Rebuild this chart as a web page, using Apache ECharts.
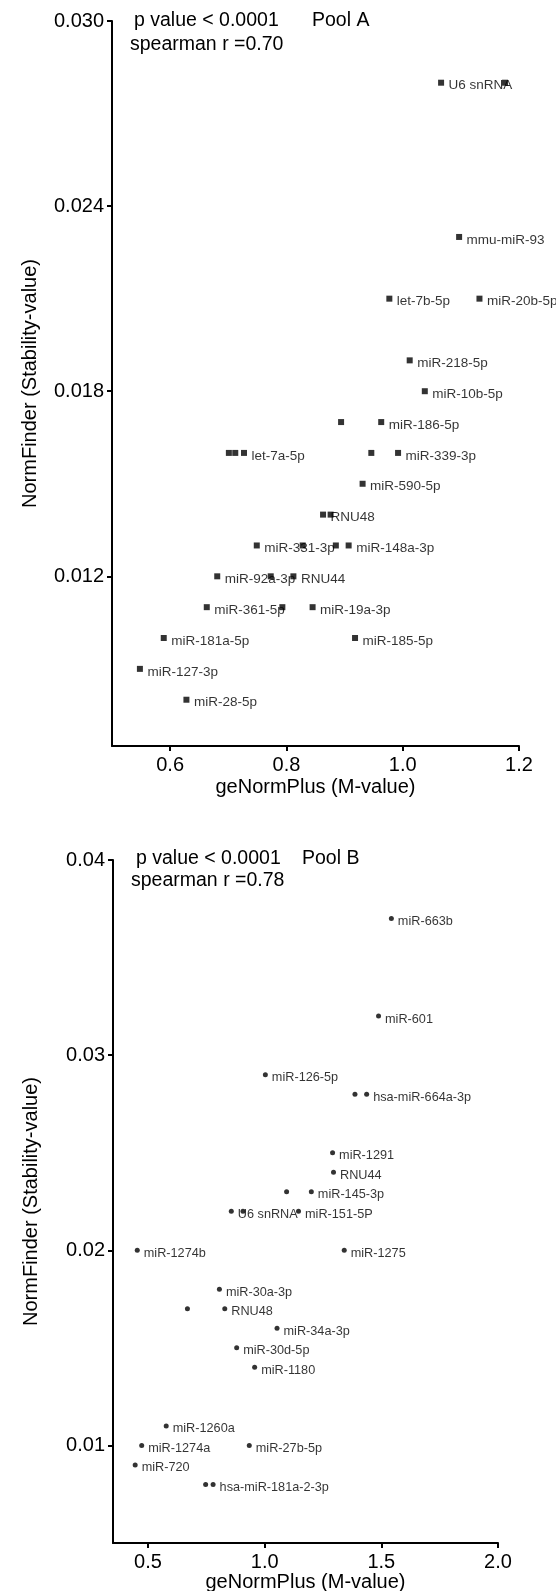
<!DOCTYPE html>
<html>
<head>
<meta charset="utf-8">
<script src="https://cdn.jsdelivr.net/npm/echarts@6/dist/echarts.min.js"></script>
<style>
html,body{margin:0;padding:0;background:#fff;}
#c{width:556px;height:1591px;}
</style>
</head>
<body>
<div id="c"></div>
<script>
// ---------- Pool A ----------
const poolA_names = ["U6 snRNA","","mmu-miR-93","let-7b-5p","miR-20b-5p","miR-218-5p","miR-10b-5p","","miR-186-5p","","","let-7a-5p","","miR-339-3p","miR-590-5p","RNU48","","miR-331-3p","","","miR-148a-3p","miR-92a-3p","","RNU44","miR-361-5p","","miR-19a-3p","miR-181a-5p","miR-185-5p","miR-127-3p","miR-28-5p"];
const poolA_x = [1.066,1.176,1.097,0.977,1.132,1.012,1.038,0.894,0.963,0.701,0.712,0.727,0.946,0.992,0.931,0.863,0.876,0.749,0.828,0.885,0.907,0.681,0.773,0.812,0.663,0.793,0.845,0.589,0.918,0.548,0.628];
const poolA_y = [0.028,0.028,0.023,0.021,0.021,0.019,0.018,0.017,0.017,0.016,0.016,0.016,0.016,0.016,0.015,0.014,0.014,0.013,0.013,0.013,0.013,0.012,0.012,0.012,0.011,0.011,0.011,0.010,0.010,0.009,0.008];
const poolA_xTicks = [0.6,0.8,1.0,1.2];
const poolA_yTicks = [0.012,0.018,0.024,0.030];

// ---------- Pool B ----------
const poolB_names = ["miR-663b","miR-601","miR-126-5p","","hsa-miR-664a-3p","miR-1291","RNU44","","miR-145-3p","U6 snRNA","","miR-151-5P","miR-1274b","miR-1275","miR-30a-3p","","RNU48","miR-34a-3p","miR-30d-5p","miR-1180","miR-1260a","miR-1274a","miR-27b-5p","miR-720","","hsa-miR-181a-2-3p"];
const poolB_x = [1.543,1.488,1.003,1.387,1.437,1.291,1.295,1.094,1.200,0.857,0.907,1.145,0.454,1.341,0.806,0.669,0.829,1.053,0.880,0.957,0.578,0.473,0.934,0.445,0.747,0.779];
const poolB_y = [0.037,0.032,0.029,0.028,0.028,0.025,0.024,0.023,0.023,0.022,0.022,0.022,0.020,0.020,0.018,0.017,0.017,0.016,0.015,0.014,0.011,0.010,0.010,0.009,0.008,0.008];
const poolB_xTicks = [0.5,1.0,1.5,2.0];
const poolB_yTicks = [0.01,0.02,0.03,0.04];

const FONT = "'Liberation Sans', Arial, Helvetica, sans-serif";
const pts = (xs, ys, names) => xs.map((x, i) => ({ value: [x, ys[i]], name: names[i] }));

function xAxis(gi, min, max, ticks, gap) {
  return {
    type: 'value', gridIndex: gi, min: min, max: max,
    name: 'geNormPlus (M-value)', nameLocation: 'middle', nameGap: gap,
    nameTextStyle: { fontFamily: FONT, fontSize: 20, color: '#000' },
    axisLine: { show: true, onZero: false, lineStyle: { color: '#000', width: 2 } },
    axisTick: { show: true, length: 5, customValues: ticks, lineStyle: { color: '#000', width: 2 } },
    axisLabel: { customValues: ticks, margin: 9, fontFamily: FONT, fontSize: 20, color: '#000',
      formatter: v => Number(v).toFixed(1) },
    splitLine: { show: false }
  };
}
function yAxis(gi, min, max, ticks, dec) {
  return {
    type: 'value', gridIndex: gi, min: min, max: max,
    name: 'NormFinder (Stability-value)', nameLocation: 'middle', nameGap: 72,
    nameTextStyle: { fontFamily: FONT, fontSize: 20, color: '#000' },
    axisLine: { show: true, onZero: false, lineStyle: { color: '#000', width: 2 } },
    axisTick: { show: true, length: 5, customValues: ticks, lineStyle: { color: '#000', width: 2 } },
    axisLabel: { customValues: ticks, margin: 8, fontFamily: FONT, fontSize: 20, color: '#000',
      formatter: v => Number(v).toFixed(dec) },
    splitLine: { show: false }
  };
}
function labelSeries(gi, data, dist, fs) {
  return {
    type: 'scatter', xAxisIndex: gi, yAxisIndex: gi, data: data, z: 2,
    symbol: 'circle', symbolSize: 1, itemStyle: { color: 'rgba(0,0,0,0)' },
    label: { show: true, position: 'right', distance: dist, offset: [0, 3],
      formatter: p => p.name, fontFamily: FONT, fontSize: fs, color: '#000' },
    silent: true, animation: false
  };
}
function markSeries(gi, data, sym, size) {
  return {
    type: 'scatter', xAxisIndex: gi, yAxisIndex: gi, data: data, z: 3,
    symbol: sym, symbolSize: size, itemStyle: { color: '#000' },
    label: { show: false }, silent: true, animation: false
  };
}
function annot(x, y, txt) {
  return { type: 'text', left: x, top: y, style: { text: txt, font: '19.5px ' + FONT, fill: '#000' } };
}

const chart = echarts.init(document.getElementById('c'), null, { renderer: 'canvas' });
chart.setOption({
  backgroundColor: '#fff',
  animation: false,
  grid: [
    { left: 112, top: 21, width: 407, height: 725, containLabel: false, outerBoundsMode: 'none' },
    { left: 113, top: 860, width: 385, height: 683, containLabel: false, outerBoundsMode: 'none' }
  ],
  xAxis: [xAxis(0, 0.5, 1.2, poolA_xTicks, 31), xAxis(1, 0.35, 2.0, poolB_xTicks, 28)],
  yAxis: [yAxis(0, 0.0065, 0.030, poolA_yTicks, 3), yAxis(1, 0.005, 0.04, poolB_yTicks, 2)],
  series: [
    labelSeries(0, pts(poolA_x, poolA_y, poolA_names), 7, 13.5),
    markSeries(0, pts(poolA_x, poolA_y, poolA_names), 'rect', 6),
    labelSeries(1, pts(poolB_x, poolB_y, poolB_names), 6, 12.7),
    markSeries(1, pts(poolB_x, poolB_y, poolB_names), 'circle', 5)
  ],
  graphic: [
    annot(134, 11, 'p value < 0.0001'),
    annot(312, 11, 'Pool A'),
    annot(130, 35, 'spearman r =0.70'),
    annot(136, 849, 'p value < 0.0001'),
    annot(302, 849, 'Pool B'),
    annot(131, 871, 'spearman r =0.78')
  ]
});
</script>
</body>
</html>
